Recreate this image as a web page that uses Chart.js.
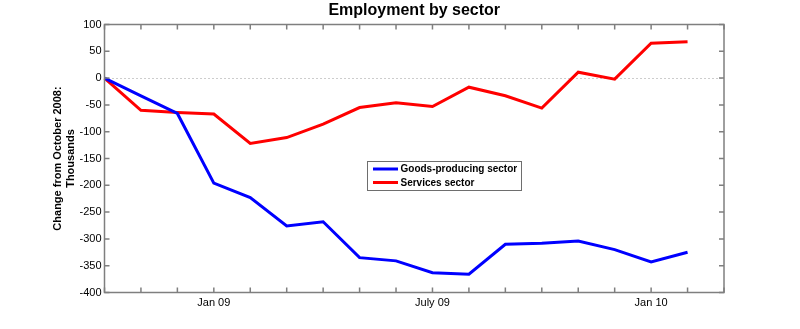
<!DOCTYPE html>
<html>
<head>
<meta charset="utf-8">
<script src="https://cdn.jsdelivr.net/npm/chart.js@4/dist/chart.umd.min.js"></script>
<style>
  html, body { margin: 0; padding: 0; background: #ffffff; }
  #wrap { width: 800px; height: 329px; position: relative; }
</style>
</head>
<body>
<div id="wrap"><canvas id="c" width="800" height="329"></canvas></div>
<script>
// ---- Data ----
const months = ['Oct 08','Nov 08','Dec 08','Jan 09','Feb 09','Mar 09','Apr 09','May 09','Jun 09',
                'July 09','Aug 09','Sep 09','Oct 09','Nov 09','Dec 09','Jan 10','Feb 10','Mar 10'];
const shownTickLabels = ['Jan 09', 'July 09', 'Jan 10'];
const goodsProducing = [0, -33, -66, -196, -223, -276, -268, -335, -341, -363, -366, -310, -308, -304, -320, -343, -325];
const servicesSector = [0, -60, -64, -67, -122, -111, -86, -55, -46, -53, -17, -33, -56, 11, -2, 65, 68];
const yTicks = { min: -400, max: 100, step: 50 };
const seriesNames = ['Goods-producing sector', 'Services sector'];

const AXIS_GRAY = '#7f7f7f';
const FONT = '"Liberation Sans", Arial, Helvetica, sans-serif';

const framePlugin = {
  id: 'frame',
  beforeDatasetsDraw(chart) {
    const { ctx, chartArea: a, scales } = chart;
    const y0 = scales.y.getPixelForValue(0);
    ctx.save();
    ctx.strokeStyle = '#9a9a9a';
    ctx.lineWidth = 1;
    ctx.setLineDash([1, 3]);
    ctx.beginPath();
    ctx.moveTo(a.left, Math.round(y0) + 0.5);
    ctx.lineTo(a.right, Math.round(y0) + 0.5);
    ctx.stroke();
    ctx.restore();
  },
  afterDatasetsDraw(chart) {
    const { ctx, chartArea: a, scales } = chart;
    ctx.save();
    ctx.strokeStyle = AXIS_GRAY;
    ctx.lineWidth = 1.5;
    ctx.strokeRect(a.left, a.top, a.right - a.left, a.bottom - a.top);
    const L = 5;
    ctx.beginPath();
    for (let v = yTicks.min; v <= yTicks.max; v += yTicks.step) {
      const py = scales.y.getPixelForValue(v);
      ctx.moveTo(a.left, py); ctx.lineTo(a.left + L, py);
      ctx.moveTo(a.right, py); ctx.lineTo(a.right - L, py);
    }
    for (let i = 0; i < months.length; i++) {
      const px = scales.x.getPixelForValue(i);
      ctx.moveTo(px, a.top); ctx.lineTo(px, a.top + L);
      ctx.moveTo(px, a.bottom); ctx.lineTo(px, a.bottom - L);
    }
    ctx.stroke();

    // legend box
    const bx = 367.5, by = 161.5, bw = 154, bh = 29;
    ctx.fillStyle = '#ffffff';
    ctx.fillRect(bx, by, bw, bh);
    ctx.strokeStyle = '#6e6e6e';
    ctx.lineWidth = 1;
    ctx.strokeRect(bx, by, bw, bh);
    const rows = chart.data.datasets;
    ctx.font = 'bold 10px ' + FONT;
    ctx.textBaseline = 'middle';
    ctx.textAlign = 'left';
    rows.forEach((ds, i) => {
      const cy = by + 7.5 + i * 13.5;
      ctx.strokeStyle = ds.borderColor;
      ctx.lineWidth = 3;
      ctx.beginPath();
      ctx.moveTo(373, cy); ctx.lineTo(398, cy);
      ctx.stroke();
      ctx.fillStyle = '#000000';
      ctx.fillText(ds.label, 400.5, cy + 0.5);
    });
    ctx.restore();
  }
};

new Chart(document.getElementById('c'), {
  type: 'line',
  data: {
    labels: months,
    datasets: [
      { label: seriesNames[0], data: goodsProducing, borderColor: '#0000ff', backgroundColor: '#0000ff',
        borderWidth: 3, pointRadius: 0, tension: 0, fill: false },
      { label: seriesNames[1], data: servicesSector, borderColor: '#ff0000', backgroundColor: '#ff0000',
        borderWidth: 3, pointRadius: 0, tension: 0, fill: false }
    ]
  },
  options: {
    responsive: false,
    animation: false,
    devicePixelRatio: 1,
    layout: { padding: { left: 0, right: 76, top: 0, bottom: 0 } },
    plugins: {
      legend: { display: false },
      tooltip: { enabled: false },
      title: {
        display: true,
        fullSize: false,
        text: 'Employment by sector',
        color: '#000000',
        font: { family: FONT, size: 16, weight: 'bold' },
        padding: { top: 0.6, bottom: 4.7 }
      }
    },
    scales: {
      x: {
        type: 'category',
        offset: false,
        grid: { display: false, drawTicks: false },
        border: { display: false },
        ticks: {
          autoSkip: false, maxRotation: 0, minRotation: 0, padding: 4,
          color: '#000000', font: { family: FONT, size: 11 },
          callback: function (v) {
            const l = this.getLabelForValue(v);
            return shownTickLabels.includes(l) ? l : '';
          }
        },
        afterFit(scale) { scale.height = 36.5; }
      },
      y: {
        min: yTicks.min, max: yTicks.max,
        grid: { display: false, drawTicks: false },
        border: { display: false },
        ticks: { stepSize: yTicks.step, padding: 3, color: '#000000', font: { family: FONT, size: 11 } },
        title: {
          display: true,
          text: ['Change from October 2008:', 'Thousands'],
          color: '#000000',
          font: { family: FONT, size: 11, weight: 'bold' },
          padding: { top: 51.5, bottom: 0 }
        },
        afterFit(scale) { scale.width = 104.5; }
      }
    }
  },
  plugins: [framePlugin]
});
</script>
</body>
</html>
